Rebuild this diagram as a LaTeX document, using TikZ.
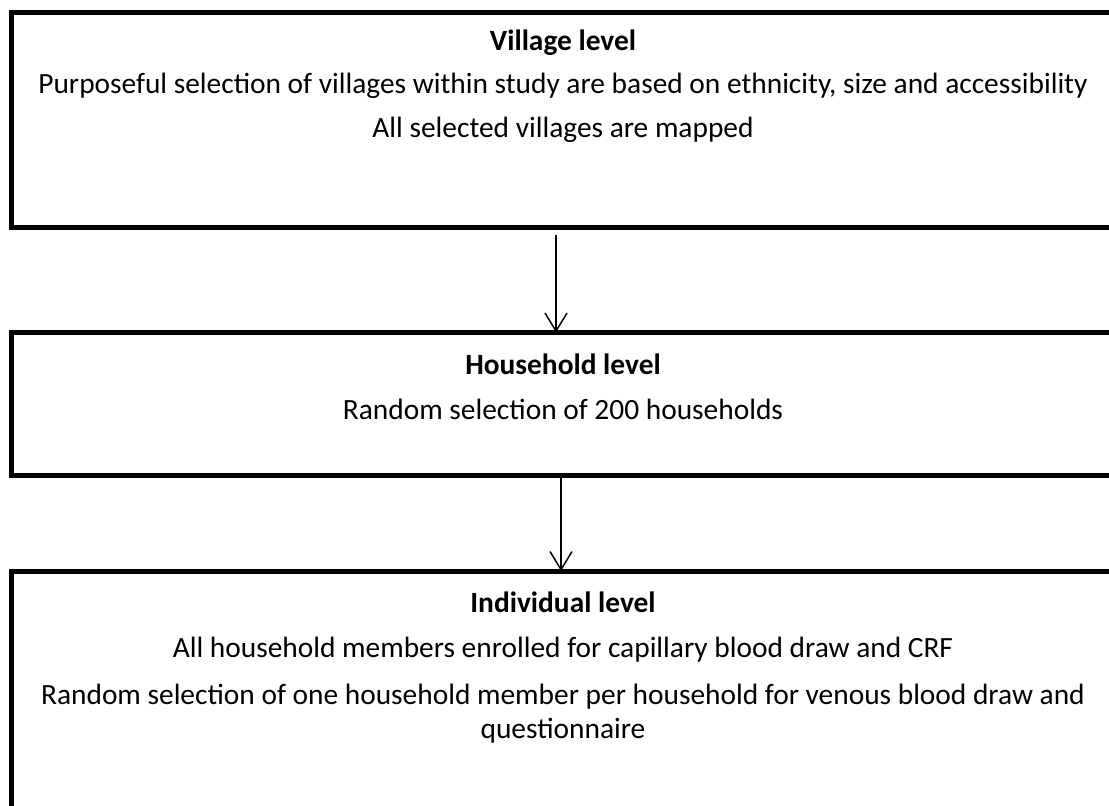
\documentclass[tikz,border=0pt]{standalone}
\usepackage{fontspec}
\setmainfont{Carlito}
\usetikzlibrary{arrows.meta}

\begin{document}
\begin{tikzpicture}[x=0.5pt,y=-0.5pt,
  lvlbox/.style={draw,line width=2.5pt,minimum width=1114*0.5pt,inner sep=0pt,outer sep=0pt,anchor=north west},
  txt/.style={font=\fontsize{14.7}{17}\selectfont},
  head/.style={txt,font=\fontsize{14.7}{17}\selectfont\bfseries},
  arr/.style={line width=0.75pt,-{Straight Barb[length=9pt,width=11pt,line width=0.75pt]}},
]
\useasboundingbox (0,0) rectangle (1109,805);
\clip (0,0) rectangle (1109,805);
% level boxes
\node[lvlbox,minimum height=215.5*0.5pt] (village) at (11,12) {};
\node[lvlbox,minimum height=142.5*0.5pt] (household) at (11,332.5) {};
\node[lvlbox,minimum height=260*0.5pt] (individual) at (11,571) {};
% village level
\node[head] (vhead) at (563,43) {Village level};
\node[txt] (vsel) at (563,86) {Purposeful selection of villages within study are based on ethnicity, size and accessibility};
\node[txt] (vmap) at (563,130) {All selected villages are mapped};
% household level
\node[head] (hhead) at (563,364) {Household level};
\node[txt] (hsel) at (563,409) {Random selection of 200 households};
% individual level
\node[head] (ihead) at (563,602) {Individual level};
\node[txt] (iall) at (563,650) {All household members enrolled for capillary blood draw and CRF};
\node[txt] (ione) at (563,697) {Random selection of one household member per household for venous blood draw and};
\node[txt] (ione2) at (563,731) {questionnaire};
% connectors
\coordinate (a1) at (556,0);
\coordinate (a2) at (561,0);
\draw[arr] ([yshift=-3.5pt]a1 |- village.south) -- (a1 |- household.north);
\draw[arr] (a2 |- household.south) -- (a2 |- individual.north);
\end{tikzpicture}
\end{document}
